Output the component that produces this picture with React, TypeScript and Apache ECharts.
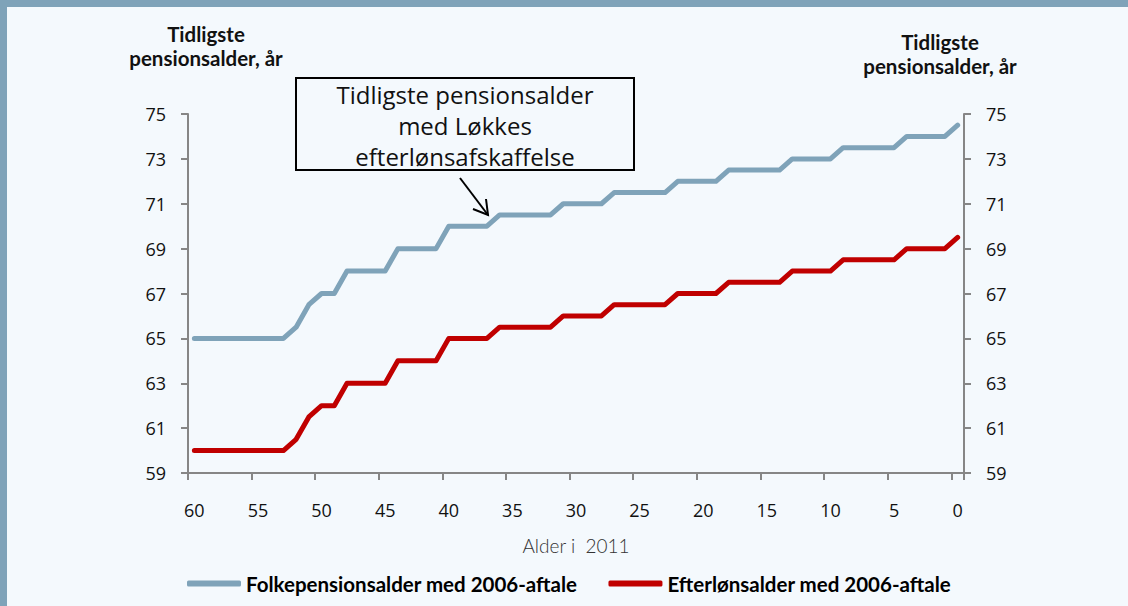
import React, { useEffect, useRef } from "react";
import * as echarts from "echarts";

const ages: string[] = [
  "60","59","58","57","56","55","54","53","52","51","50","49","48","47","46","45",
  "44","43","42","41","40","39","38","37","36","35","34","33","32","31","30","29",
  "28","27","26","25","24","23","22","21","20","19","18","17","16","15","14","13",
  "12","11","10","9","8","7","6","5","4","3","2","1","0",
];

const folkepension: number[] = [
  65, 65, 65, 65, 65, 65, 65, 65, 65.5, 66.5, 67, 67, 68, 68, 68, 68,
  69, 69, 69, 69, 70, 70, 70, 70, 70.5, 70.5, 70.5, 70.5, 70.5, 71, 71, 71,
  71, 71.5, 71.5, 71.5, 71.5, 71.5, 72, 72, 72, 72, 72.5, 72.5, 72.5, 72.5, 72.5, 73,
  73, 73, 73, 73.5, 73.5, 73.5, 73.5, 73.5, 74, 74, 74, 74, 74.5,
];

const efterloen: number[] = [
  60, 60, 60, 60, 60, 60, 60, 60, 60.5, 61.5, 62, 62, 63, 63, 63, 63,
  64, 64, 64, 64, 65, 65, 65, 65, 65.5, 65.5, 65.5, 65.5, 65.5, 66, 66, 66,
  66, 66.5, 66.5, 66.5, 66.5, 66.5, 67, 67, 67, 67, 67.5, 67.5, 67.5, 67.5, 67.5, 68,
  68, 68, 68, 68.5, 68.5, 68.5, 68.5, 68.5, 69, 69, 69, 69, 69.5,
];

const seriesNames: string[] = [
  "Folkepensionsalder med 2006-aftale",
  "Efterlønsalder med 2006-aftale",
];

const yMin = 59;
const yMax = 75;
const yInterval = 2;

const BG = "#f4f9fd";
const BLUE = "#7fa3b9";
const RED = "#c00000";
const AXIS = "#868686";

export default function App() {
  const ref = useRef<HTMLDivElement>(null);
  useEffect(() => {
    document.body.style.margin = "0";
    document.body.style.overflow = "hidden";
    document.documentElement.style.overflow = "hidden";
    if (!ref.current) return;
    const chart = echarts.init(ref.current, undefined, { renderer: "svg" });
    const yAxisCommon = {
      type: "value" as const,
      min: yMin,
      max: yMax,
      interval: yInterval,
      splitLine: { show: false },
      axisLine: { show: true, lineStyle: { color: AXIS, width: 2 } },
      axisTick: { show: true, length: 7, lineStyle: { color: AXIS, width: 2 } },
      axisLabel: {
        margin: 22,
        fontFamily: "Open Sans",
        fontSize: 18,
        color: "#111",
      },
    };
    const titleStyle = {
      text: "Tidligste\npensionsalder, år",
      align: "center",
      verticalAlign: "middle",
      fontFamily: "Lato",
      fontWeight: "bold",
      fontSize: 20.5,
      lineHeight: 24,
      fill: "#111",
    };
    chart.setOption({
      animation: false,
      backgroundColor: BG,
      grid: { left: 188, right: 164, top: 114, bottom: 133, containLabel: false },
      xAxis: {
        type: "category",
        data: ages,
        boundaryGap: true,
        name: "Alder i  2011",
        nameLocation: "middle",
        nameGap: 63,
        nameTextStyle: {
          fontFamily: "Lato",
          fontWeight: 300,
          fontSize: 19,
          color: "#333",
        },
        axisLine: { show: true, lineStyle: { color: AXIS, width: 2 } },
        axisTick: { show: true, interval: 4, length: 7, lineStyle: { color: AXIS, width: 2 } },
        axisLabel: {
          interval: 4,
          margin: 28,
          fontFamily: "Open Sans",
          fontSize: 18,
          color: "#111",
        },
        splitLine: { show: false },
      },
      yAxis: [
        { ...yAxisCommon, position: "left" },
        { ...yAxisCommon, position: "right" },
      ],
      legend: {
        left: 182,
        top: 568,
        icon: "roundRect",
        itemWidth: 54,
        itemHeight: 6,
        itemGap: 31,
        textStyle: {
          fontFamily: "Lato",
          fontWeight: "bold",
          fontSize: 20.5,
          color: "#000",
        },
        data: seriesNames,
      },
      series: [
        {
          name: seriesNames[0],
          type: "line",
          data: folkepension,
          yAxisIndex: 0,
          symbol: "none",
          color: BLUE,
          lineStyle: { width: 5, color: BLUE, cap: "round", join: "round" },
        },
        {
          name: seriesNames[1],
          type: "line",
          data: efterloen,
          yAxisIndex: 0,
          symbol: "none",
          color: RED,
          lineStyle: { width: 5, color: RED, cap: "round", join: "round" },
        },
      ],
      graphic: [
        { type: "rect", shape: { x: 0, y: 0, width: 1128, height: 7 }, style: { fill: BLUE } },
        { type: "rect", shape: { x: 0, y: 0, width: 7, height: 606 }, style: { fill: BLUE } },
        { type: "text", x: 206, y: 46, style: { ...titleStyle } },
        { type: "text", x: 940, y: 54, style: { ...titleStyle } },
        {
          type: "rect",
          shape: { x: 296, y: 78, width: 338, height: 92 },
          style: { fill: BG, stroke: "#000", lineWidth: 2 },
        },
        {
          type: "text",
          x: 465,
          y: 125,
          style: {
            text: "Tidligste pensionsalder\nmed Løkkes\nefterlønsafskaffelse",
            align: "center",
            verticalAlign: "middle",
            fontFamily: "Open Sans",
            fontSize: 24,
            lineHeight: 31,
            fill: "#111",
          },
        },
        {
          type: "line",
          shape: { x1: 460, y1: 178, x2: 488, y2: 215 },
          style: { stroke: "#000", lineWidth: 2 },
        },
        {
          type: "polyline",
          shape: { points: [[473, 209], [488, 215], [486, 199]] },
          style: { stroke: "#000", lineWidth: 2, fill: null },
        },
      ],
    });
    return () => chart.dispose();
  }, []);
  return (
    <div
      ref={ref}
      style={{ position: "absolute", left: 0, top: 0, width: 1128, height: 606 }}
    />
  );
}
